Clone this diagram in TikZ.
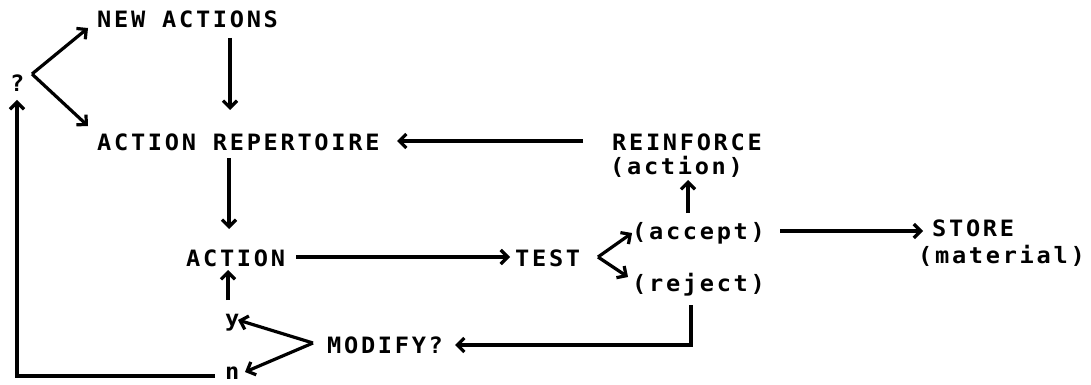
\documentclass[tikz,border=0pt]{standalone}
\usepackage{fontspec}
\setmainfont{DejaVu Sans Mono Bold}[LetterSpace=12, FakeStretch=1.05]
\usetikzlibrary{arrows.meta}
\tikzset{
  lbl/.style={anchor=base west, inner sep=0pt, font=\fontsize{22.5}{24}\selectfont},
  con/.style={line width=3.2pt, -{Straight Barb[length=7pt,width=14pt,line width=3.2pt]}},
}
\begin{document}
\begin{tikzpicture}[x=1pt,y=-1pt]
\useasboundingbox (0,0) rectangle (1091,385);
% texts
\node[lbl] (q) at (10,92) {?};
\node[lbl] (new) at (97,28) {NEW ACTIONS};
\node[lbl] (rep) at (97,150) {ACTION REPERTOIRE};
\node[lbl] (reinf) at (612,150) {REINFORCE};
\node[lbl] (ract) at (610,174) {(action)};
\node[lbl] (action) at (186,266) {ACTION};
\node[lbl] (test) at (515,266) {TEST};
\node[lbl] (accept) at (632,239) {(accept)};
\node[lbl] (store) at (932,236) {STORE};
\node[lbl] (material) at (918,263) {(material)};
\node[lbl] (reject) at (632,291) {(reject)};
\node[lbl] (modify) at (327,353) {MODIFY?};
\node[lbl] (y) at (225,326) {y};
\node[lbl] (n) at (225,379) {n};
% helper coordinates
\coordinate (qv) at (32,74);
\coordinate (tv) at (598,257);
\coordinate (mv) at (313,343);
\coordinate (rj) at (691,345);
\coordinate (nl) at (17,376);
% connectors
\draw[con] (qv) -- (88,28);
\draw[con] (qv) -- (88,126);
\draw[con] (230,38) -- (230,110);
\draw[con] (583,141) -- (397,141);
\draw[con] (229,158) -- (229,229);
\draw[con] (296,257) -- (510,257);
\draw[con] (tv) -- (632,233);
\draw[con] (tv) -- (628,277);
\draw[con] (688,213) -- (688,180);
\draw[con] (780,231) -- (923,231);
\draw[con] (691,305) -- (rj) -- (455,345);
\draw[con] (mv) -- (238,320);
\draw[con] (mv) -- (245,372);
\draw[con] (228,300) -- (228,270);
\draw[con] (215,376) -- (nl) -- (17,100);
\end{tikzpicture}
\end{document}
